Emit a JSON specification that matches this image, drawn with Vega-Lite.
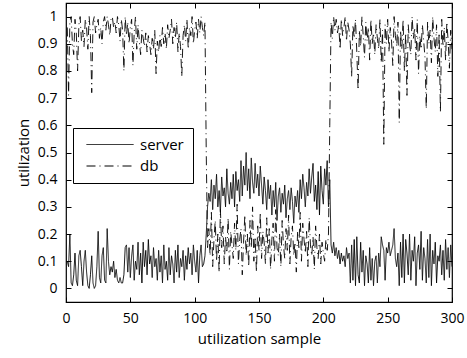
{
  "$schema": "https://vega.github.io/schema/vega-lite/v6.json",
  "autosize": "none",
  "width": 386,
  "height": 299,
  "padding": {"left": 66, "top": 3, "right": 15, "bottom": 56},
  "background": "white",
  "config": {
    "view": {"stroke": "black", "strokeWidth": 1.2},
    "font": "Open Sans",
    "axis": {"grid": false, "domain": false, "tickColor": "black", "tickSize": -5, "labelColor": "black", "labelFont": "Open Sans", "labelFontSize": 14, "titleFont": "Open Sans", "titleFontSize": 15, "titleFontWeight": "normal", "titleColor": "black"}
  },
  "data": {"values": [
{"sample":1,"server":0.10,"db":0.96},{"sample":2,"server":0.08,"db":0.71},{"sample":3,"server":0.20,"db":0.98},{"sample":4,"server":0.02,"db":1.00},{"sample":5,"server":0.01,"db":0.90},{"sample":6,"server":0.05,"db":0.86},{"sample":7,"server":0.13,"db":0.99},{"sample":8,"server":0.03,"db":0.94},{"sample":9,"server":0.01,"db":0.80},{"sample":10,"server":0.12,"db":0.97},
{"sample":11,"server":0.14,"db":1.00},{"sample":12,"server":0.08,"db":0.91},{"sample":13,"server":0.01,"db":0.95},{"sample":14,"server":0.10,"db":0.89},{"sample":15,"server":0.14,"db":0.99},{"sample":16,"server":0.06,"db":0.96},{"sample":17,"server":0.01,"db":0.88},{"sample":18,"server":0.00,"db":1.00},{"sample":19,"server":0.05,"db":0.93},{"sample":20,"server":0.12,"db":0.72},
{"sample":21,"server":0.02,"db":0.98},{"sample":22,"server":0.00,"db":1.00},{"sample":23,"server":0.01,"db":0.94},{"sample":24,"server":0.08,"db":0.97},{"sample":25,"server":0.21,"db":0.99},{"sample":26,"server":0.04,"db":0.92},{"sample":27,"server":0.02,"db":0.96},{"sample":28,"server":0.12,"db":0.90},{"sample":29,"server":0.15,"db":0.98},{"sample":30,"server":0.03,"db":1.00},
{"sample":31,"server":0.02,"db":0.95},{"sample":32,"server":0.22,"db":1.00},{"sample":33,"server":0.10,"db":0.97},{"sample":34,"server":0.05,"db":0.93},{"sample":35,"server":0.08,"db":0.99},{"sample":36,"server":0.06,"db":1.00},{"sample":37,"server":0.10,"db":0.96},{"sample":38,"server":0.04,"db":0.98},{"sample":39,"server":0.07,"db":0.94},{"sample":40,"server":0.03,"db":1.00},
{"sample":41,"server":0.02,"db":0.97},{"sample":42,"server":0.04,"db":0.91},{"sample":43,"server":0.02,"db":0.99},{"sample":44,"server":0.02,"db":0.95},{"sample":45,"server":0.05,"db":0.80},{"sample":46,"server":0.15,"db":1.00},{"sample":47,"server":0.16,"db":0.93},{"sample":48,"server":0.06,"db":0.98},{"sample":49,"server":0.15,"db":0.90},{"sample":50,"server":0.04,"db":0.96},
{"sample":51,"server":0.12,"db":0.99},{"sample":52,"server":0.16,"db":0.82},{"sample":53,"server":0.03,"db":0.94},{"sample":54,"server":0.10,"db":1.00},{"sample":55,"server":0.07,"db":0.88},{"sample":56,"server":0.17,"db":0.97},{"sample":57,"server":0.05,"db":0.91},{"sample":58,"server":0.13,"db":0.86},{"sample":59,"server":0.02,"db":0.95},{"sample":60,"server":0.17,"db":0.92},
{"sample":61,"server":0.08,"db":0.89},{"sample":62,"server":0.14,"db":0.94},{"sample":63,"server":0.05,"db":0.87},{"sample":64,"server":0.18,"db":0.93},{"sample":65,"server":0.09,"db":0.90},{"sample":66,"server":0.12,"db":0.86},{"sample":67,"server":0.04,"db":0.92},{"sample":68,"server":0.15,"db":0.88},{"sample":69,"server":0.08,"db":0.95},{"sample":70,"server":0.11,"db":0.79},
{"sample":71,"server":0.03,"db":0.91},{"sample":72,"server":0.14,"db":0.87},{"sample":73,"server":0.06,"db":0.93},{"sample":74,"server":0.12,"db":0.89},{"sample":75,"server":0.02,"db":0.96},{"sample":76,"server":0.16,"db":0.90},{"sample":77,"server":0.07,"db":0.94},{"sample":78,"server":0.10,"db":0.88},{"sample":79,"server":0.03,"db":0.97},{"sample":80,"server":0.15,"db":0.92},
{"sample":81,"server":0.05,"db":0.95},{"sample":82,"server":0.12,"db":0.99},{"sample":83,"server":0.09,"db":0.90},{"sample":84,"server":0.02,"db":0.96},{"sample":85,"server":0.14,"db":0.92},{"sample":86,"server":0.06,"db":0.98},{"sample":87,"server":0.16,"db":0.87},{"sample":88,"server":0.04,"db":0.94},{"sample":89,"server":0.11,"db":0.89},{"sample":90,"server":0.08,"db":0.78},
{"sample":91,"server":0.14,"db":0.93},{"sample":92,"server":0.03,"db":0.97},{"sample":93,"server":0.12,"db":0.91},{"sample":94,"server":0.07,"db":0.99},{"sample":95,"server":0.15,"db":0.88},{"sample":96,"server":0.09,"db":0.96},{"sample":97,"server":0.13,"db":0.93},{"sample":98,"server":0.05,"db":1.00},{"sample":99,"server":0.16,"db":0.90},{"sample":100,"server":0.10,"db":0.95},
{"sample":101,"server":0.06,"db":0.98},{"sample":102,"server":0.14,"db":0.92},{"sample":103,"server":0.02,"db":0.99},{"sample":104,"server":0.12,"db":0.94},{"sample":105,"server":0.16,"db":1.00},{"sample":106,"server":0.08,"db":0.96},{"sample":107,"server":0.09,"db":0.93},{"sample":108,"server":0.12,"db":0.98},{"sample":109,"server":0.20,"db":0.50},{"sample":110,"server":0.30,"db":0.15},
{"sample":111,"server":0.35,"db":0.22},{"sample":112,"server":0.32,"db":0.12},{"sample":113,"server":0.40,"db":0.28},{"sample":114,"server":0.29,"db":0.08},{"sample":115,"server":0.38,"db":0.18},{"sample":116,"server":0.33,"db":0.25},{"sample":117,"server":0.42,"db":0.10},{"sample":118,"server":0.30,"db":0.20},{"sample":119,"server":0.36,"db":0.06},{"sample":120,"server":0.28,"db":0.29},
{"sample":121,"server":0.41,"db":0.15},{"sample":122,"server":0.34,"db":0.23},{"sample":123,"server":0.37,"db":0.09},{"sample":124,"server":0.30,"db":0.19},{"sample":125,"server":0.44,"db":0.13},{"sample":126,"server":0.35,"db":0.26},{"sample":127,"server":0.31,"db":0.07},{"sample":128,"server":0.39,"db":0.21},{"sample":129,"server":0.33,"db":0.16},{"sample":130,"server":0.42,"db":0.11},
{"sample":131,"server":0.30,"db":0.24},{"sample":132,"server":0.43,"db":0.14},{"sample":133,"server":0.36,"db":0.31},{"sample":134,"server":0.40,"db":0.09},{"sample":135,"server":0.32,"db":0.18},{"sample":136,"server":0.47,"db":0.22},{"sample":137,"server":0.34,"db":0.05},{"sample":138,"server":0.45,"db":0.17},{"sample":139,"server":0.38,"db":0.27},{"sample":140,"server":0.50,"db":0.12},
{"sample":141,"server":0.36,"db":0.20},{"sample":142,"server":0.44,"db":0.08},{"sample":143,"server":0.33,"db":0.25},{"sample":144,"server":0.48,"db":0.15},{"sample":145,"server":0.39,"db":0.30},{"sample":146,"server":0.35,"db":0.10},{"sample":147,"server":0.46,"db":0.19},{"sample":148,"server":0.37,"db":0.06},{"sample":149,"server":0.42,"db":0.23},{"sample":150,"server":0.34,"db":0.14},
{"sample":151,"server":0.45,"db":0.28},{"sample":152,"server":0.38,"db":0.11},{"sample":153,"server":0.31,"db":0.21},{"sample":154,"server":0.41,"db":0.17},{"sample":155,"server":0.36,"db":0.09},{"sample":156,"server":0.29,"db":0.26},{"sample":157,"server":0.40,"db":0.13},{"sample":158,"server":0.33,"db":0.22},{"sample":159,"server":0.38,"db":0.07},{"sample":160,"server":0.27,"db":0.18},
{"sample":161,"server":0.36,"db":0.24},{"sample":162,"server":0.30,"db":0.10},{"sample":163,"server":0.39,"db":0.29},{"sample":164,"server":0.25,"db":0.15},{"sample":165,"server":0.34,"db":0.12},{"sample":166,"server":0.37,"db":0.20},{"sample":167,"server":0.28,"db":0.08},{"sample":168,"server":0.35,"db":0.25},{"sample":169,"server":0.31,"db":0.16},{"sample":170,"server":0.38,"db":0.11},
{"sample":171,"server":0.26,"db":0.22},{"sample":172,"server":0.33,"db":0.14},{"sample":173,"server":0.36,"db":0.27},{"sample":174,"server":0.29,"db":0.09},{"sample":175,"server":0.37,"db":0.19},{"sample":176,"server":0.32,"db":0.23},{"sample":177,"server":0.24,"db":0.12},{"sample":178,"server":0.34,"db":0.17},{"sample":179,"server":0.30,"db":0.06},{"sample":180,"server":0.36,"db":0.21},
{"sample":181,"server":0.28,"db":0.15},{"sample":182,"server":0.40,"db":0.28},{"sample":183,"server":0.33,"db":0.10},{"sample":184,"server":0.42,"db":0.24},{"sample":185,"server":0.37,"db":0.18},{"sample":186,"server":0.30,"db":0.13},{"sample":187,"server":0.39,"db":0.21},{"sample":188,"server":0.34,"db":0.08},{"sample":189,"server":0.44,"db":0.26},{"sample":190,"server":0.35,"db":0.16},
{"sample":191,"server":0.41,"db":0.12},{"sample":192,"server":0.46,"db":0.19},{"sample":193,"server":0.32,"db":0.07},{"sample":194,"server":0.38,"db":0.23},{"sample":195,"server":0.29,"db":0.15},{"sample":196,"server":0.43,"db":0.11},{"sample":197,"server":0.27,"db":0.20},{"sample":198,"server":0.45,"db":0.09},{"sample":199,"server":0.36,"db":0.17},{"sample":200,"server":0.31,"db":0.13},
{"sample":201,"server":0.44,"db":0.10},{"sample":202,"server":0.38,"db":0.18},{"sample":203,"server":0.47,"db":0.14},{"sample":204,"server":0.30,"db":0.20},{"sample":205,"server":0.40,"db":0.60},{"sample":206,"server":0.16,"db":0.98},{"sample":207,"server":0.13,"db":0.92},{"sample":208,"server":0.17,"db":1.00},{"sample":209,"server":0.12,"db":0.95},{"sample":210,"server":0.15,"db":0.99},
{"sample":211,"server":0.11,"db":0.94},{"sample":212,"server":0.14,"db":0.97},{"sample":213,"server":0.09,"db":0.88},{"sample":214,"server":0.13,"db":0.99},{"sample":215,"server":0.10,"db":0.93},{"sample":216,"server":0.12,"db":0.96},{"sample":217,"server":0.08,"db":1.00},{"sample":218,"server":0.15,"db":0.91},{"sample":219,"server":0.11,"db":0.98},{"sample":220,"server":0.13,"db":0.95},
{"sample":221,"server":0.02,"db":0.90},{"sample":222,"server":0.16,"db":0.78},{"sample":223,"server":0.03,"db":0.97},{"sample":224,"server":0.18,"db":0.92},{"sample":225,"server":0.01,"db":0.99},{"sample":226,"server":0.19,"db":0.87},{"sample":227,"server":0.05,"db":0.73},{"sample":228,"server":0.02,"db":0.95},{"sample":229,"server":0.17,"db":0.89},{"sample":230,"server":0.06,"db":1.00},
{"sample":231,"server":0.14,"db":0.93},{"sample":232,"server":0.01,"db":0.85},{"sample":233,"server":0.12,"db":0.98},{"sample":234,"server":0.09,"db":0.91},{"sample":235,"server":0.02,"db":0.96},{"sample":236,"server":0.15,"db":0.84},{"sample":237,"server":0.03,"db":0.99},{"sample":238,"server":0.11,"db":0.90},{"sample":239,"server":0.01,"db":0.94},{"sample":240,"server":0.10,"db":0.86},
{"sample":241,"server":0.12,"db":0.97},{"sample":242,"server":0.02,"db":0.92},{"sample":243,"server":0.13,"db":0.88},{"sample":244,"server":0.08,"db":0.99},{"sample":245,"server":0.19,"db":0.83},{"sample":246,"server":0.16,"db":0.95},{"sample":247,"server":0.14,"db":0.53},{"sample":248,"server":0.03,"db":0.97},{"sample":249,"server":0.15,"db":0.90},{"sample":250,"server":0.13,"db":0.99},
{"sample":251,"server":0.17,"db":0.87},{"sample":252,"server":0.12,"db":0.96},{"sample":253,"server":0.14,"db":0.91},{"sample":254,"server":0.16,"db":0.82},{"sample":255,"server":0.22,"db":1.00},{"sample":256,"server":0.11,"db":0.93},{"sample":257,"server":0.08,"db":0.89},{"sample":258,"server":0.13,"db":0.98},{"sample":259,"server":0.01,"db":0.61},{"sample":260,"server":0.17,"db":0.95},
{"sample":261,"server":0.04,"db":0.88},{"sample":262,"server":0.20,"db":0.99},{"sample":263,"server":0.02,"db":0.80},{"sample":264,"server":0.18,"db":0.94},{"sample":265,"server":0.13,"db":0.71},{"sample":266,"server":0.05,"db":0.97},{"sample":267,"server":0.20,"db":0.90},{"sample":268,"server":0.03,"db":0.86},{"sample":269,"server":0.14,"db":1.00},{"sample":270,"server":0.10,"db":0.92},
{"sample":271,"server":0.19,"db":0.96},{"sample":272,"server":0.01,"db":0.84},{"sample":273,"server":0.13,"db":0.99},{"sample":274,"server":0.16,"db":0.79},{"sample":275,"server":0.07,"db":0.93},{"sample":276,"server":0.21,"db":0.88},{"sample":277,"server":0.03,"db":0.97},{"sample":278,"server":0.15,"db":0.91},{"sample":279,"server":0.11,"db":0.85},{"sample":280,"server":0.02,"db":0.66},
{"sample":281,"server":0.18,"db":0.98},{"sample":282,"server":0.04,"db":0.90},{"sample":283,"server":0.20,"db":0.95},{"sample":284,"server":0.01,"db":0.83},{"sample":285,"server":0.14,"db":1.00},{"sample":286,"server":0.09,"db":0.92},{"sample":287,"server":0.17,"db":0.87},{"sample":288,"server":0.02,"db":0.97},{"sample":289,"server":0.12,"db":0.78},{"sample":290,"server":0.10,"db":0.94},
{"sample":291,"server":0.16,"db":0.65},{"sample":292,"server":0.05,"db":0.99},{"sample":293,"server":0.14,"db":0.89},{"sample":294,"server":0.03,"db":0.96},{"sample":295,"server":0.18,"db":0.84},{"sample":296,"server":0.07,"db":0.98},{"sample":297,"server":0.15,"db":0.91},{"sample":298,"server":0.04,"db":0.81},{"sample":299,"server":0.16,"db":0.95},{"sample":300,"server":0.08,"db":0.88}
  ]},
  "transform": [{"fold": ["server", "db"], "as": ["series", "value"]}],
  "layer": [
    {
      "mark": {"type": "line", "color": "black", "strokeWidth": 0.9, "clip": true},
      "encoding": {
        "x": {"field": "sample", "type": "quantitative", "scale": {"domain": [0, 300], "nice": false, "zero": false},
              "axis": {"orient": "bottom", "values": [0, 50, 100, 150, 200, 250, 300], "labelFlush": false, "title": "utilization sample", "labelPadding": 14, "titlePadding": 6}},
        "y": {"field": "value", "type": "quantitative", "scale": {"domain": [-0.05, 1.05], "nice": false, "zero": false},
              "axis": {"orient": "left", "values": [0, 0.1, 0.2, 0.3, 0.4, 0.5, 0.6, 0.7, 0.8, 0.9, 1], "labelFlush": false, "labelExpr": "datum.value == 0 ? '0' : datum.value == 1 ? '1' : format(datum.value, '.1f')", "title": "utilization", "labelPadding": 14, "titlePadding": 6}},
        "strokeDash": {"field": "series", "type": "nominal",
          "scale": {"domain": ["server", "db"], "range": [[1, 0], [9, 4, 1, 4]]},
          "legend": {"title": null, "orient": "none", "legendX": 7, "legendY": 125, "symbolType": "M-0.6,0H8.8", "symbolSize": 100, "symbolStrokeColor": "black", "symbolStrokeWidth": 1, "symbolFillColor": "transparent", "labelFont": "Open Sans", "labelFontSize": 15, "labelColor": "black", "labelOffset": 43, "fillColor": "white", "strokeColor": "black", "padding": 9, "rowPadding": 5.5}
        },
        "detail": {"field": "series", "type": "nominal"}
      }
    },
    {
      "mark": {"type": "line", "strokeOpacity": 0},
      "encoding": {
        "x": {"field": "sample", "type": "quantitative", "axis": {"orient": "top", "values": [0, 50, 100, 150, 200, 250, 300], "labels": false, "title": null}},
        "y": {"field": "value", "type": "quantitative", "axis": {"orient": "right", "values": [0, 0.1, 0.2, 0.3, 0.4, 0.5, 0.6, 0.7, 0.8, 0.9, 1], "labels": false, "title": null}},
        "detail": {"field": "series", "type": "nominal"}
      }
    }
  ],
  "resolve": {"axis": {"x": "independent", "y": "independent"}}
}
